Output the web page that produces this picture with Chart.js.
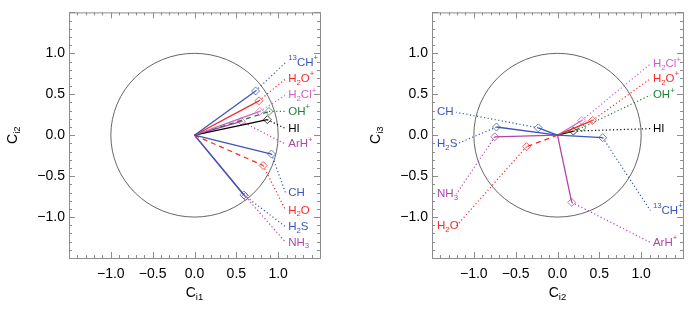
<!DOCTYPE html>
<html>
<head>
<meta charset="utf-8">
<script src="https://cdn.jsdelivr.net/npm/chart.js@4.4.1/dist/chart.umd.min.js"></script>
<style>
  html, body { margin: 0; padding: 0; background: #fff; }
  #wrap { position: relative; width: 692px; height: 313px; }
  canvas { position: absolute; top: 0; }
  #c1 { left: 0; }
  #c2 { left: 346px; }
</style>
</head>
<body>
<div id="wrap">
  <canvas id="c1" width="346" height="313"></canvas>
  <canvas id="c2" width="346" height="313"></canvas>
</div>
<script>
// species and their loadings on components 1..3
const species = ["^{13}CH^{+}", "H_{2}O^{+}", "H_{2}Cl^{+}", "OH^{+}", "HI", "ArH^{+}", "CH", "H_{2}O", "H_{2}S", "NH_{3}"];
const ci1 = [0.73, 0.77, 0.78, 0.89, 0.87, 0.56, 0.92, 0.82, 0.59, 0.61];
const ci2 = [0.54, 0.42, 0.29, 0.29, 0.19, 0.17, -0.23, -0.37, -0.73, -0.75];
const ci3 = [-0.03, 0.18, 0.18, 0.09, 0.05, -0.82, 0.09, -0.14, 0.10, -0.02];

// where the label of each species sits (data units)
const labelX1 = [1.12, 1.12, 1.12, 1.12, 1.12, 1.12, 1.12, 1.12, 1.12, 1.12];
const labelY1 = [0.89, 0.69, 0.49, 0.29, 0.08, -0.11, -0.71, -0.92, -1.12, -1.31];
const labelX2 = [1.14, 1.14, 1.14, 1.14, 1.14, 1.14, -1.44, -1.44, -1.44, -1.44];
const labelY2 = [-0.92, 0.69, 0.87, 0.49, 0.08, -1.31, 0.28, -1.11, -0.11, -0.72];

const tickLabels = ["\u22121.0", "\u22120.5", "0.0", "0.5", "1.0"];

const BLUE = "#3b55b8", RED = "#f42a2a", ORCHID = "#cc5fc8", GREEN = "#1f7f3a", MAG = "#b045a8";
const speciesColor = [BLUE, RED, ORCHID, GREEN, "#000000", MAG, BLUE, RED, BLUE, MAG];
const dashed = ["OH^{+}", "H_{2}O"];

const FONT = '"Liberation Sans", Arial, Helvetica, sans-serif';

function parts(s) {
  const out = [];
  s.replace(/\^\{([^}]*)\}|_\{([^}]*)\}|([^^_]+)/g, (m, sup, sub, txt) => {
    if (sup != null) out.push({ t: sup, s: 1 });
    else if (sub != null) out.push({ t: sub, s: -1 });
    else out.push({ t: txt, s: 0 });
  });
  return out;
}

function drawRich(ctx, str, x, y, size, color, measureOnly) {
  let cx = x;
  ctx.save();
  ctx.fillStyle = color;
  ctx.textBaseline = "middle";
  ctx.textAlign = "left";
  parts(str).forEach(q => {
    const fs = q.s ? size * 0.68 : size;
    ctx.font = fs + "px " + FONT;
    const dy = q.s === 1 ? -size * 0.38 : q.s === -1 ? size * 0.32 : 0;
    if (!measureOnly) ctx.fillText(q.t, cx, y + dy);
    cx += ctx.measureText(q.t).width;
  });
  ctx.restore();
  return cx - x;
}

function fade(hex) {
  const n = parseInt(hex.slice(1), 16);
  return `rgba(${n >> 16},${(n >> 8) & 255},${n & 255},0.75)`;
}

const fmtTick = v => {
  const i = Math.round(v * 2) + 2;
  return (i >= 0 && i < tickLabels.length) ? tickLabels[i] : "";
};

const panelPlugin = {
  id: "panel",
  beforeDatasetsDraw(chart, args, opts) {
    const { ctx, chartArea: a, scales: { x, y } } = chart;
    ctx.save();
    // unit circle
    const cx = x.getPixelForValue(0), cy = y.getPixelForValue(0);
    const rx = x.getPixelForValue(1) - cx, ry = cy - y.getPixelForValue(1);
    ctx.strokeStyle = "#555";
    ctx.lineWidth = 0.9;
    ctx.beginPath();
    ctx.ellipse(cx, cy, rx, ry, 0, 0, 2 * Math.PI);
    ctx.stroke();
    // frame with inward ticks
    ctx.strokeStyle = "#8c8c8c";
    ctx.lineWidth = 1;
    ctx.strokeRect(a.left + 0.5, a.top + 0.5, a.right - a.left, a.bottom - a.top);
    ctx.beginPath();
    for (let i = -15; i <= 15; i++) {
      const v = i / 10, len = i % 5 === 0 ? 6 : 3;
      const px = Math.round(x.getPixelForValue(v)) + 0.5;
      ctx.moveTo(px, a.bottom); ctx.lineTo(px, a.bottom - len);
      ctx.moveTo(px, a.top); ctx.lineTo(px, a.top + len);
      const py = Math.round(y.getPixelForValue(v)) + 0.5;
      ctx.moveTo(a.left, py); ctx.lineTo(a.left + len, py);
      ctx.moveTo(a.right, py); ctx.lineTo(a.right - len, py);
    }
    ctx.stroke();
    ctx.restore();
  },
  afterDatasetsDraw(chart, args, opts) {
    const { ctx, chartArea: a, scales: { x, y } } = chart;
    species.forEach((s, i) => {
      drawRich(ctx, s, x.getPixelForValue(opts.lx[i]), y.getPixelForValue(opts.ly[i]), 11.5, speciesColor[i]);
    });
    // axis titles
    const xw = drawRich(ctx, opts.xTitle, 0, 0, 14, "#000", true);
    drawRich(ctx, opts.xTitle, (a.left + a.right) / 2 - xw / 2, a.bottom + 35, 14, "#000");
    const yw = drawRich(ctx, opts.yTitle, 0, 0, 14, "#000", true);
    ctx.save();
    ctx.translate(a.left - 56, (a.top + a.bottom) / 2);
    ctx.rotate(-Math.PI / 2);
    drawRich(ctx, opts.yTitle, -yw / 2, 0, 14, "#000");
    ctx.restore();
  }
};

function buildDatasets(xs, ys, lx, ly) {
  const ds = [];
  species.forEach((s, i) => {
    const col = speciesColor[i];
    // leader end: just before the text, or just after it for labels on the left
    const ex = lx[i] < 0 ? lx[i] + 0.23 : lx[i] - 0.03;
    ds.push({
      data: [{ x: xs[i], y: ys[i] }, { x: ex, y: ly[i] }],
      showLine: true, borderColor: col, borderWidth: 1.2, borderDash: [1.2, 2.4],
      pointRadius: 0
    });
    ds.push({
      data: [{ x: 0, y: 0 }, { x: xs[i], y: ys[i] }],
      showLine: true, borderColor: col, borderWidth: 1.3,
      borderDash: dashed.includes(s) ? [5, 4] : [],
      pointRadius: [0, 4], pointStyle: "rectRot", pointBorderWidth: 1,
      pointBorderColor: fade(col), pointBackgroundColor: "rgba(0,0,0,0)"
    });
  });
  return ds;
}

function axis(isY, fitSize) {
  return {
    type: "linear", min: -1.5, max: 1.5,
    grid: { display: false, drawTicks: false },
    border: { display: false },
    ticks: {
      stepSize: 0.5, padding: isY ? 4 : 8, color: "#000", autoSkip: false, maxRotation: 0,
      font: { size: 14, family: FONT }, callback: fmtTick
    },
    afterFit: s => { if (isY) s.width = fitSize; else s.height = fitSize; }
  };
}

function makePanel(id, xs, ys, lx, ly, xTitle, yTitle, yWidth, padRight) {
  return new Chart(document.getElementById(id), {
    type: "scatter",
    data: { datasets: buildDatasets(xs, ys, lx, ly) },
    options: {
      responsive: false, animation: false, devicePixelRatio: 1, events: [],
      layout: { padding: { left: 0, top: 10, right: padRight, bottom: 0 } },
      scales: { x: axis(false, 55), y: axis(true, yWidth) },
      plugins: {
        legend: { display: false }, tooltip: { enabled: false },
        panel: { lx, ly, xTitle, yTitle }
      }
    },
    plugins: [panelPlugin]
  });
}

makePanel("c1", ci1, ci2, labelX1, labelY1, "C_{i1}", "C_{i2}", 69, 26);
makePanel("c2", ci2, ci3, labelX2, labelY2, "C_{i2}", "C_{i3}", 86, 9);
</script>
</body>
</html>
